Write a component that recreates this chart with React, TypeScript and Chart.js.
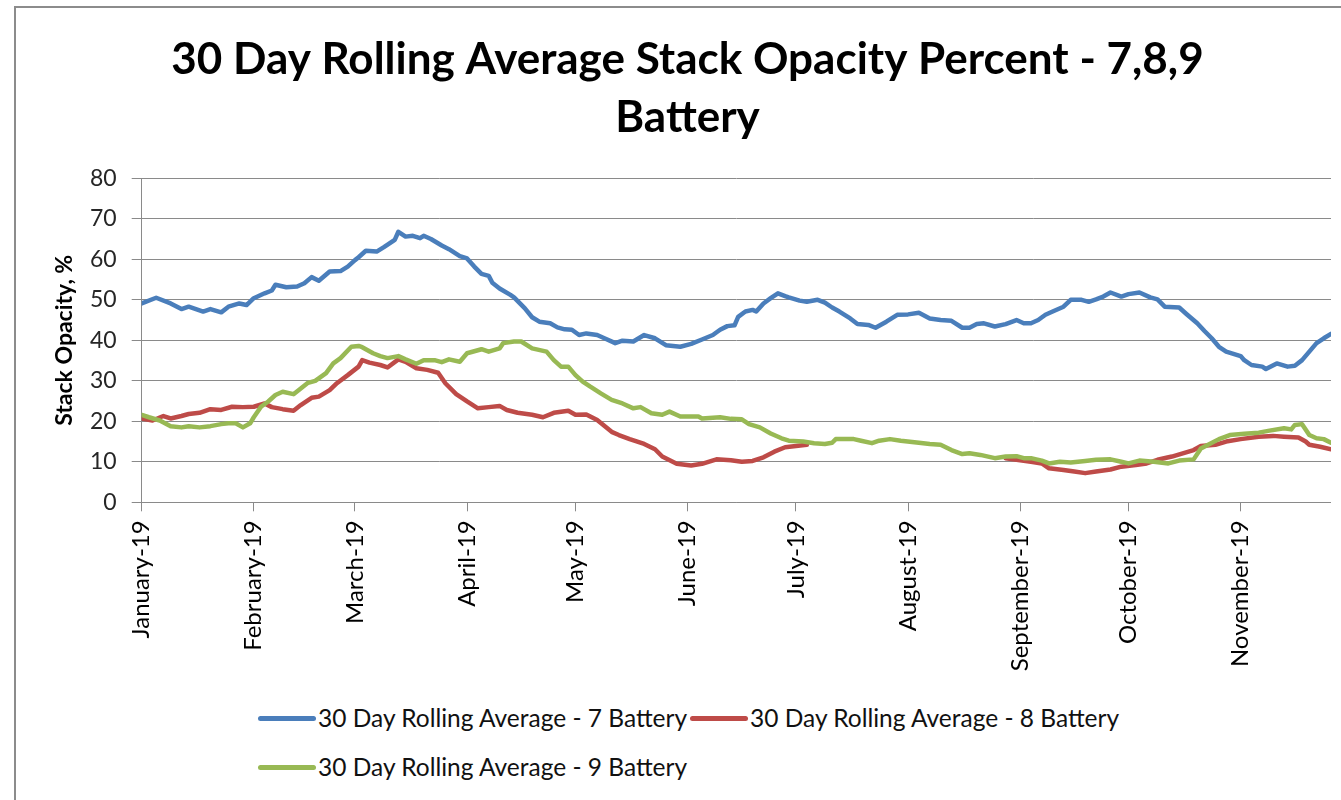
import React, { useEffect, useRef } from 'react';
import { Chart, registerables } from 'chart.js';

Chart.register(...registerables);

const TITLE_LINES = ['30 Day Rolling Average Stack Opacity Percent - 7,8,9', 'Battery'];
const Y_TITLE = 'Stack Opacity, %';

// Day offsets from 1 January 2019 where each month begins
const MONTH_DAYS = [0, 31, 59, 90, 120, 151, 181, 212, 243, 273, 304];
const MONTH_LABELS = [
  'January-19', 'February-19', 'March-19', 'April-19', 'May-19', 'June-19',
  'July-19', 'August-19', 'September-19', 'October-19', 'November-19',
];
const LAST_DAY = 329;

const SERIES_LABELS = [
  '30 Day Rolling Average - 7 Battery',
  '30 Day Rolling Average - 8 Battery',
  '30 Day Rolling Average - 9 Battery',
];
const SERIES_COLORS = ['#4A7EBB', '#BE4B48', '#98B954'];

const BATTERY7_DAYS = [0, 4, 8, 11, 13, 17, 19, 22, 24, 27, 29, 31, 34, 36, 37, 40, 43, 45, 47, 49, 52, 55, 57, 59, 60, 62, 65, 67, 70, 71, 73, 75, 77, 78, 80, 83, 85, 88, 90, 92, 94, 96, 97, 99, 102, 103, 106, 108, 110, 113, 115, 117, 119, 121, 123, 126, 128, 131, 133, 136, 139, 142, 145, 149, 152, 155, 158, 160, 162, 164, 165, 167, 169, 170, 172, 174, 176, 178, 179, 182, 184, 187, 189, 191, 193, 196, 198, 201, 203, 206, 209, 212, 215, 218, 221, 224, 227, 229, 231, 233, 236, 239, 242, 244, 246, 248, 250, 252, 255, 257, 260, 262, 264, 266, 268, 271, 273, 276, 279, 281, 283, 287, 289, 292, 294, 296, 298, 300, 304, 305, 307, 310, 311, 314, 317, 319, 321, 323, 325, 327, 329];
const BATTERY7_VALUES = [49.1, 50.5, 49.1, 47.7, 48.3, 47.1, 47.7, 46.9, 48.3, 49.1, 48.7, 50.4, 51.6, 52.3, 53.7, 53.1, 53.3, 54.1, 55.6, 54.7, 57, 57.1, 58.2, 59.8, 60.5, 62.1, 61.9, 63, 64.8, 66.8, 65.6, 65.8, 65.2, 65.8, 65, 63.4, 62.5, 60.8, 60.2, 58.2, 56.4, 55.9, 54.2, 52.8, 51.2, 50.6, 47.9, 45.7, 44.6, 44.2, 43.2, 42.7, 42.6, 41.3, 41.7, 41.3, 40.5, 39.3, 39.9, 39.7, 41.3, 40.5, 38.8, 38.4, 39.1, 40.2, 41.3, 42.6, 43.5, 43.7, 45.8, 47.1, 47.5, 47.1, 49.1, 50.4, 51.6, 50.9, 50.6, 49.8, 49.5, 50, 49.3, 48.1, 47.1, 45.4, 44, 43.8, 43.1, 44.6, 46.3, 46.4, 46.8, 45.4, 45, 44.8, 43.1, 43.1, 44, 44.2, 43.4, 44, 45, 44.2, 44.2, 45, 46.3, 47.1, 48.3, 50, 50, 49.5, 50.1, 50.8, 51.8, 50.8, 51.4, 51.8, 50.6, 50.1, 48.3, 48.1, 46.5, 44.2, 42.3, 40.5, 38.4, 37.2, 36.1, 35.1, 33.9, 33.5, 32.9, 34.3, 33.5, 33.7, 35.1, 37.2, 39.3, 40.5, 41.6];

const BATTERY8_DAYS = [0, 3, 6, 8, 11, 13, 16, 19, 22, 25, 28, 31, 34, 36, 39, 42, 44, 47, 49, 52, 54, 57, 60, 61, 63, 66, 68, 71, 73, 76, 79, 82, 84, 87, 90, 93, 96, 99, 101, 104, 108, 111, 114, 118, 120, 123, 126, 130, 132, 135, 139, 142, 144, 148, 152, 155, 159, 163, 166, 169, 172, 175, 178, 181, 184, 210, 239, 243, 246, 249, 251, 255, 258, 261, 264, 268, 271, 275, 278, 281, 285, 288, 291, 293, 297, 300, 304, 309, 313, 316, 320, 322, 323, 326, 329];
const BATTERY8_VALUES = [20.7, 20.2, 21.3, 20.7, 21.3, 21.8, 22.1, 23, 22.8, 23.6, 23.5, 23.6, 24.4, 23.5, 23, 22.6, 24, 25.8, 26.1, 27.7, 29.4, 31.4, 33.5, 35.1, 34.5, 33.9, 33.3, 35.3, 34.7, 33.1, 32.7, 32, 29.4, 26.7, 24.9, 23.2, 23.5, 23.8, 22.8, 22.1, 21.6, 21, 22.1, 22.6, 21.6, 21.7, 20.3, 17.4, 16.6, 15.6, 14.4, 13.1, 11.3, 9.5, 9.1, 9.5, 10.6, 10.4, 10, 10.2, 11.1, 12.5, 13.6, 13.9, 14.2, null, 10.9, 10.4, 10, 9.6, 8.4, 8, 7.6, 7.2, 7.6, 8.1, 8.8, 9.2, 9.6, 10.5, 11.3, 12.1, 12.9, 13.9, 14.2, 15, 15.6, 16.2, 16.4, 16.2, 16, 15, 14.2, 13.7, 13.1];

const BATTERY9_DAYS = [0, 2, 5, 8, 11, 13, 16, 19, 22, 24, 26, 28, 30, 31, 33, 35, 37, 39, 42, 44, 46, 48, 51, 53, 55, 58, 60, 61, 64, 66, 68, 71, 73, 76, 78, 81, 83, 85, 88, 90, 94, 96, 99, 100, 103, 105, 108, 112, 114, 116, 118, 120, 122, 124, 127, 130, 133, 136, 138, 141, 144, 146, 149, 154, 155, 160, 163, 166, 168, 171, 174, 177, 179, 183, 186, 189, 191, 192, 197, 199, 202, 204, 207, 210, 215, 218, 221, 224, 227, 229, 232, 236, 239, 242, 244, 246, 249, 251, 254, 257, 261, 264, 268, 271, 273, 276, 280, 284, 287, 291, 293, 295, 298, 301, 305, 309, 312, 316, 318, 319, 321, 323, 325, 327, 329];
const BATTERY9_VALUES = [21.6, 21, 20.2, 18.8, 18.5, 18.8, 18.5, 18.8, 19.3, 19.5, 19.5, 18.5, 19.5, 21, 23.6, 24.9, 26.5, 27.3, 26.7, 28.1, 29.5, 30, 31.9, 34.3, 35.6, 38.4, 38.6, 38.3, 36.8, 36.1, 35.6, 36.1, 35.3, 34.2, 35.1, 35.1, 34.6, 35.3, 34.7, 36.8, 37.8, 37.2, 38, 39.3, 39.7, 39.7, 38, 37.2, 35.1, 33.5, 33.5, 31.4, 29.8, 28.6, 26.9, 25.3, 24.4, 23.2, 23.5, 22, 21.6, 22.4, 21.2, 21.2, 20.7, 21, 20.6, 20.5, 19.3, 18.5, 17, 15.8, 15.2, 15, 14.6, 14.4, 14.7, 15.6, 15.6, 15.2, 14.6, 15.2, 15.6, 15.2, 14.7, 14.4, 14.2, 12.9, 11.9, 12.1, 11.7, 10.9, 11.3, 11.4, 10.9, 10.9, 10.3, 9.6, 10, 9.8, 10.2, 10.5, 10.6, 10, 9.6, 10.3, 10, 9.6, 10.3, 10.6, 13.3, 14.2, 15.6, 16.6, 16.9, 17.2, 17.7, 18.3, 18, 19.1, 19.3, 16.6, 15.8, 15.6, 14.7];

const Y_MIN = 0;
const Y_MAX = 80;
const Y_STEP = 10;

const FONT = 'Lato, "Open Sans", sans-serif';
const GRID_COLOR = '#8a8a8a';

function toPoints(days: number[], values: (number | null)[]) {
  return days.map((d, i) => ({ x: d, y: values[i] }));
}

export default function App() {
  const canvasRef = useRef<HTMLCanvasElement | null>(null);

  useEffect(() => {
    if (!canvasRef.current) return;
    const seriesDays = [BATTERY7_DAYS, BATTERY8_DAYS, BATTERY9_DAYS];
    const seriesValues = [BATTERY7_VALUES, BATTERY8_VALUES, BATTERY9_VALUES];
    const chart = new Chart(canvasRef.current, {
      type: 'line',
      data: {
        datasets: SERIES_LABELS.map((label, i) => ({
          label,
          data: toPoints(seriesDays[i], seriesValues[i]),
          borderColor: SERIES_COLORS[i],
          backgroundColor: SERIES_COLORS[i],
          borderWidth: 4.5,
          pointRadius: 0,
          tension: 0,
          fill: false,
          spanGaps: false,
          borderJoinStyle: 'round',
          borderCapStyle: 'round',
          order: 3 - i,
        })),
      },
      options: {
        responsive: false,
        animation: false,
        events: [],
        layout: { padding: { left: 30, right: 0, top: 0, bottom: 0 } },
        plugins: {
          legend: { display: false },
          tooltip: { enabled: false },
          title: {
            display: true,
            text: TITLE_LINES,
            color: '#000',
            font: { family: FONT, size: 44, weight: 'bold', lineHeight: 58 / 44 },
            padding: { top: 31, bottom: 31.3 },
          },
        },
        scales: {
          x: {
            type: 'linear',
            min: 0,
            max: LAST_DAY,
            afterBuildTicks: (scale: any) => {
              scale.ticks = MONTH_DAYS.map((v) => ({ value: v }));
            },
            afterFit: (scale: any) => {
              scale.height = 187.7;
            },
            ticks: {
              autoSkip: false,
              minRotation: 90,
              maxRotation: 90,
              padding: 9,
              color: '#000',
              font: { family: FONT, size: 24 },
              callback: (v: any) => {
                const i = MONTH_DAYS.indexOf(Number(v));
                return i >= 0 ? MONTH_LABELS[i] : '';
              },
            },
            grid: { drawOnChartArea: false, tickLength: 9, color: GRID_COLOR, lineWidth: 1 },
            border: { color: GRID_COLOR, width: 1 },
          },
          y: {
            min: Y_MIN,
            max: Y_MAX,
            afterFit: (scale: any) => {
              scale.width = 97.7;
            },
            ticks: {
              stepSize: Y_STEP,
              padding: 15,
              color: '#262626',
              font: { family: FONT, size: 23 },
            },
            grid: { color: GRID_COLOR, tickLength: 10, lineWidth: 1 },
            border: { color: GRID_COLOR, width: 1 },
            title: {
              display: true,
              text: Y_TITLE,
              color: '#000',
              font: { family: FONT, size: 23, weight: 'bold', lineHeight: 1.2 },
              padding: { top: 7.2, bottom: 0 },
            },
          },
        },
      },
    } as any);
    return () => chart.destroy();
  }, []);

  const legendItem = (i: number, left: number, top: number) => (
    <div
      key={i}
      style={{
        position: 'absolute',
        left,
        top,
        height: 30,
        display: 'flex',
        alignItems: 'center',
        whiteSpace: 'nowrap',
      }}
    >
      <span
        style={{
          display: 'inline-block',
          width: 58,
          height: 5,
          borderRadius: 3,
          background: SERIES_COLORS[i],
          marginRight: 2,
        }}
      />
      <span style={{ fontFamily: FONT, fontSize: 24.5, color: '#111', lineHeight: '30px' }}>
        {SERIES_LABELS[i]}
      </span>
    </div>
  );

  return (
    <div
      style={{
        position: 'fixed',
        left: 0,
        top: 0,
        width: 1341,
        height: 800,
        overflow: 'hidden',
        background: '#fff',
      }}
    >
      <div
        style={{
          position: 'absolute',
          left: 14,
          top: 6,
          width: 1400,
          height: 900,
          borderLeft: '2px solid #8c8c8c',
          borderTop: '2px solid #8c8c8c',
        }}
      />
      <canvas
        ref={canvasRef}
        width={1317}
        height={690}
        style={{ position: 'absolute', left: 14, top: 0, width: 1317, height: 690 }}
      />
      {legendItem(0, 258, 703)}
      {legendItem(1, 690, 703)}
      {legendItem(2, 258, 752)}
    </div>
  );
}
